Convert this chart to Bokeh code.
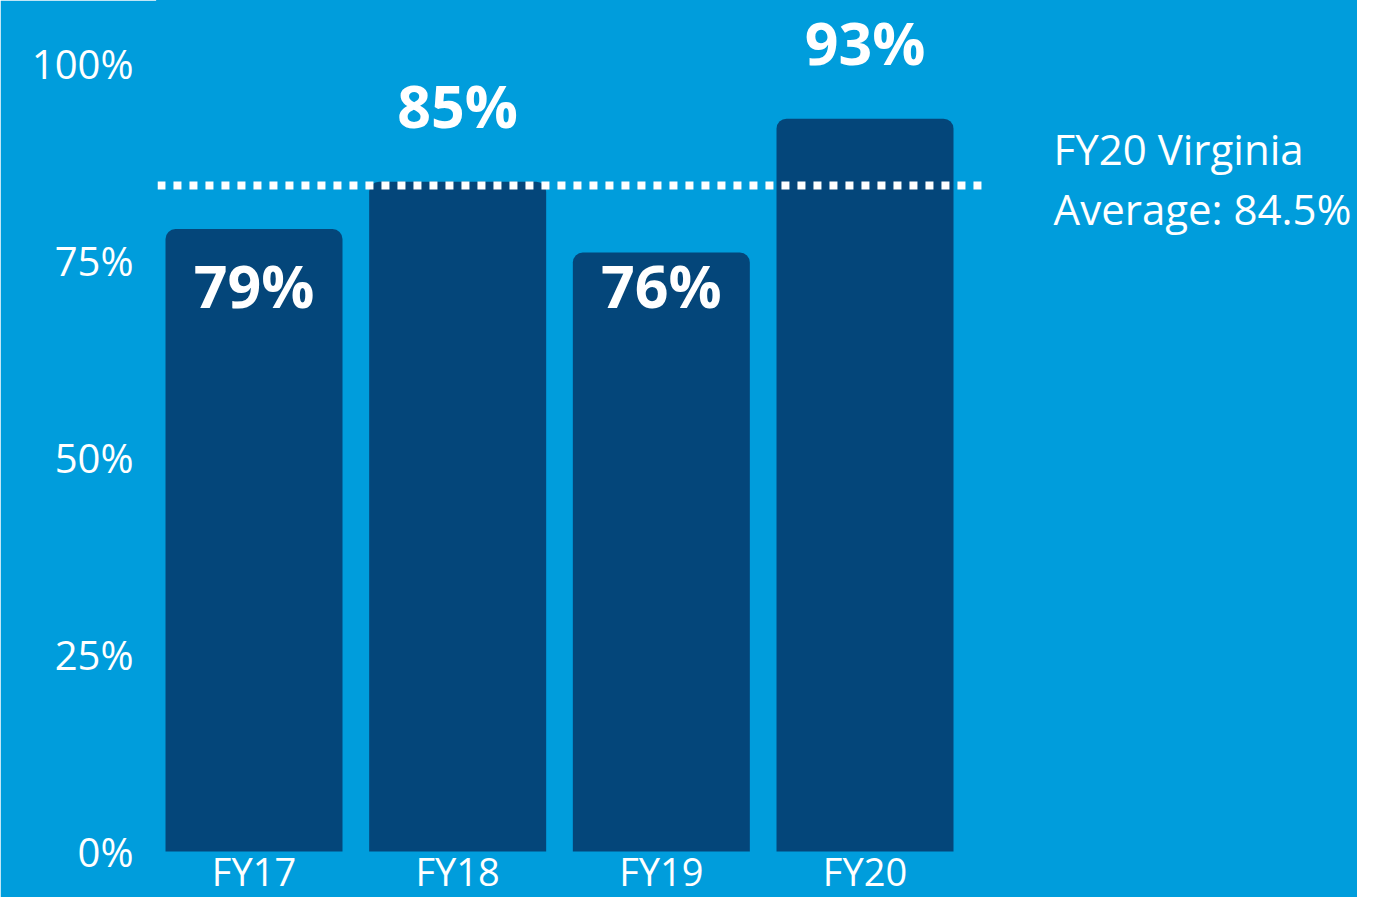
from bokeh.plotting import figure
from bokeh.models import Range1d, FixedTicker, Label, LabelSet, ColumnDataSource
from bokeh.core.properties import value
from bokeh.embed import file_html
from bokeh.resources import INLINE

# ---- data ----
categories = ["FY17", "FY18", "FY19", "FY20"]
values = [79, 85, 76, 93]
virginia_avg = 84.5
avg_title = "FY20 Virginia"
y_ticks = [0, 25, 50, 75, 100]
y_tick_labels = ["0%", "25%", "50%", "75%", "100%"]

BG = "#009DDC"
BAR = "#04467A"
FONT = "Open Sans"
BOLD_FONT = "Open Sans"

xs = list(range(len(categories)))
bar_labels = [f"{v}%" for v in values]

p = figure(width=1357, height=897, output_backend="svg", toolbar_location=None,
           x_range=Range1d(-0.4738, 5.4181), y_range=Range1d(-5.838, 107.99),
           x_axis_type=None,
           min_border_left=157, min_border_right=0, min_border_top=0, min_border_bottom=0)
p.background_fill_color = BG
p.border_fill_color = BG
p.outline_line_color = BG
p.outline_line_width = 3
p.grid.visible = False

src = ColumnDataSource(dict(x=xs, top=values, cat=categories, lab=bar_labels))
p.vbar(x="x", top="top", bottom=0, width=0.869, source=src, fill_color=BAR,
       line_color=None, border_radius=(10, 10, 0, 0))

# average line (dotted), spanning the bar area
p.line(x=[xs[0] - 0.474, xs[-1] + 0.582], y=[virginia_avg, virginia_avg],
       line_color="white", line_width=8, line_dash="8 8", line_cap="butt")

# y axis
ax = p.yaxis[0]
ax.ticker = FixedTicker(ticks=y_ticks)
ax.major_label_overrides = {t: l for t, l in zip(y_ticks, y_tick_labels)}
ax.axis_line_color = None
ax.major_tick_line_color = None
ax.minor_tick_line_color = None
ax.major_tick_out = 0
ax.major_label_standoff = 24
ax.major_label_text_color = "white"
ax.major_label_text_font = FONT
ax.major_label_text_font_size = "40px"

# category labels under the bars
p.add_layout(LabelSet(x="x", y=0, text="cat", source=src, y_offset=-46,
                      text_align="center", text_baseline="bottom",
                      text_color="white", text_font=value(FONT), text_font_size="38px"))

# value labels
above = [i for i, v in enumerate(values) if v > virginia_avg]
inside = [i for i, v in enumerate(values) if v <= virginia_avg]
inside_level = min(values[i] for i in inside)
src_above = ColumnDataSource(dict(x=[xs[i] for i in above], y=[values[i] for i in above],
                                  lab=[bar_labels[i] for i in above]))
src_inside = ColumnDataSource(dict(x=[xs[i] for i in inside], y=[inside_level] * len(inside),
                                   lab=[bar_labels[i] for i in inside]))
for s, off in ((src_above, 77), (src_inside, -32)):
    p.add_layout(LabelSet(x="x", y="y", text="lab", source=s, y_offset=off,
                          text_align="center", text_baseline="middle",
                          text_color="white", text_font=value(BOLD_FONT), text_font_style="bold",
                          text_font_size="59px"))

# average annotation
p.add_layout(Label(x=3.926, y=virginia_avg, y_offset=7,
                   text=f"{avg_title}\nAverage: {virginia_avg}%",
                   text_align="left", text_baseline="middle", text_line_height=1.04,
                   text_color="white", text_font=FONT, text_font_size="42px"))

html = file_html(p, INLINE)
html = html.replace("<body>", f'<body style="background:{BG};">', 1)
open("out.html", "w").write(html)
